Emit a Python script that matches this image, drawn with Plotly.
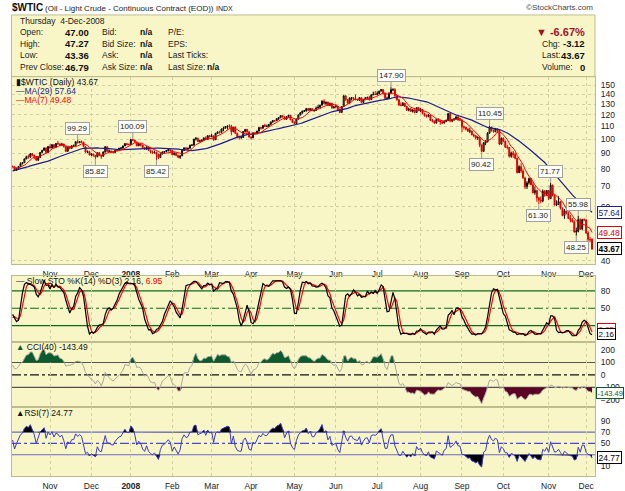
import numpy as np
import pandas as pd
import plotly.graph_objects as go

# ---------------- data (values read/estimated from the chart) ----------------
HOLIDAYS = ["2007-09-03", "2007-11-22", "2007-12-25", "2008-01-01", "2008-01-21",
            "2008-02-18", "2008-03-21", "2008-05-26", "2008-07-04", "2008-09-01", "2008-11-27"]
FIRST_DAY, LAST_DAY = "2007-08-09", "2008-12-04"
WARMUP = 40   # trading days before the first visible bar (Oct 5 2007), used by the indicators

OPEN = [
    72.10, 71.50, 71.40, 71.70, 73.40, 75.20, 72.30, 71.90, 71.10, 69.30, 69.30, 70.20, 71.10, 71.00, 72.00, 73.50, 74.10,
    74.10, 75.10, 76.30, 76.70, 76.70, 77.50, 78.20, 79.90, 80.10, 79.10, 80.60, 81.50, 81.90, 83.30, 81.60, 80.90, 79.50, 79.60, 82.90,
    81.70, 80.20, 80.10, 79.90,
    81.40, 81.20, 79.00, 80.30, 81.40, 83.10, 83.70, 86.10, 87.60, 87.40, 89.50, 88.60, 87.50, 85.30, 87.10, 90.50, 91.90, 93.50, 90.40,
    94.50, 93.50, 95.90, 94.00, 96.70, 96.40, 95.50, 96.30, 94.60, 91.20, 94.10, 93.40, 95.10, 95.20, 98.00, 97.30, 98.20, 97.70, 94.40, 90.60, 91.00,
    88.70, 89.30, 88.30, 87.50, 90.20, 88.30, 87.90, 90.80, 94.40, 91.30, 91.30, 90.60, 90.50, 91.70, 92.30, 93.30, 93.50, 95.00, 96.60, 96.00,
    96.00, 99.60, 99.20, 97.90, 95.10, 96.30, 95.70, 93.70, 92.70, 94.20, 91.90, 90.80, 90.10, 90.60, 89.20, 87.00, 89.40, 90.70, 91.00, 91.60, 92.30,
    91.70, 89.00, 90.00, 88.40, 87.10, 88.10, 91.80, 93.60, 92.80, 93.30, 95.50, 95.50, 100.00, 100.70, 98.20, 98.80, 99.20, 100.90, 99.60, 102.60,
    101.80, 102.40, 99.50, 104.50, 105.50, 105.20, 107.90, 108.80, 109.90, 110.30, 110.20, 105.70, 109.40, 104.50, 101.80, 101.20, 101.20, 105.90, 107.60, 105.60,
    101.60, 101.00, 104.80, 103.90, 106.20, 109.10, 108.50, 110.90, 110.10, 110.10, 111.80, 113.80, 114.90, 114.90, 116.70, 117.50, 119.40, 118.30, 116.10, 118.50, 119.70, 115.60,
    113.50, 112.50, 116.30, 120.00, 121.80, 123.50, 123.70, 126.00, 124.20, 125.80, 124.10, 124.10, 126.30, 127.10, 129.10, 133.20, 130.80, 132.20, 128.90, 131.00, 126.60,
    127.40, 127.80, 124.30, 122.30, 127.80, 138.50, 134.40, 131.30, 136.40, 136.70, 134.90, 134.60, 134.00, 136.70, 131.90, 134.60, 136.70, 137.00, 134.60, 139.60, 140.20,
    140.00, 141.00, 143.60, 145.30, 141.40, 136.00, 136.10, 141.70, 145.10, 145.20, 138.70, 134.60, 129.30, 128.90, 131.00, 128.00, 124.40, 125.50, 123.30, 124.70, 122.20, 126.80,
    124.10, 125.10, 121.40, 119.20, 118.60, 120.00, 115.20, 114.40, 113.00, 116.00, 115.00, 113.80, 112.90, 114.50, 115.00, 121.20, 114.60, 115.50, 116.30, 118.20, 115.60,
    115.50, 109.70, 109.40, 107.90, 106.20, 106.30, 103.30, 102.60, 100.90, 101.20, 95.70, 91.20, 97.20, 97.90, 104.60, 109.40, 106.60, 105.70, 108.00, 106.90, 96.40,
    100.60, 98.50, 94.00, 93.90, 87.80, 90.10, 89.00, 86.60, 77.70, 81.20, 78.60, 74.50, 69.90, 71.90, 74.30, 70.90, 66.80, 67.80, 64.20, 63.20, 62.70, 67.50, 66.00,
    67.80, 63.90, 70.50, 65.30, 60.80, 61.00, 62.40, 59.30, 56.20, 58.20, 57.00, 55.00, 54.40, 53.60, 49.60, 49.90, 54.50, 50.80, 54.40,
    54.40, 49.30, 46.90, 47.00,
]
HIGH = [
    72.60, 72.20, 72.30, 73.60, 75.60, 75.40, 72.90, 72.40, 71.40, 70.10, 70.60, 71.30, 71.60, 72.30, 73.70, 74.40, 74.50,
    75.30, 76.50, 77.00, 77.20, 77.70, 78.40, 80.20, 80.40, 80.20, 80.80, 81.70, 82.40, 84.10, 83.80, 81.90, 81.20, 80.30, 83.20, 83.40,
    82.00, 80.90, 80.60, 81.70,
    81.90, 81.30, 80.50, 81.60, 83.90, 84.10, 86.40, 88.20, 89.00, 90.00, 90.07, 88.80, 87.90, 87.60, 90.60, 92.20, 93.80, 93.80, 94.80,
    96.24, 96.10, 96.00, 97.10, 98.62, 96.90, 97.10, 96.50, 94.90, 94.40, 94.50, 95.40, 96.00, 98.40, 99.29, 98.60, 98.90, 97.90, 94.60, 91.80, 91.50,
    89.80, 89.60, 88.80, 90.50, 90.60, 88.50, 91.00, 94.80, 94.50, 92.40, 91.80, 91.30, 92.20, 92.70, 93.60, 94.00, 95.20, 97.00, 97.00, 96.80,
    100.00, 100.09, 99.50, 98.00, 97.20, 97.00, 95.90, 94.00, 94.60, 94.50, 92.30, 91.80, 91.60, 90.80, 89.40, 89.70, 91.10, 91.40, 92.00, 92.80, 92.60,
    91.90, 90.40, 90.20, 88.90, 88.50, 92.00, 93.90, 94.00, 93.80, 95.80, 96.20, 100.10, 101.30, 101.00, 99.30, 99.70, 101.30, 102.10, 102.90, 103.20,
    103.95, 102.80, 104.70, 105.97, 106.50, 108.20, 109.70, 110.20, 110.70, 111.80, 111.40, 109.70, 109.90, 104.90, 102.50, 102.40, 106.20, 107.80, 107.90, 106.00,
    102.10, 105.20, 105.60, 106.40, 109.30, 109.40, 111.00, 112.20, 111.50, 112.00, 114.00, 115.50, 115.50, 117.00, 117.80, 119.90, 119.60, 118.50, 118.80, 119.93, 119.90, 116.40,
    114.20, 116.60, 120.40, 122.70, 123.90, 124.60, 126.20, 126.40, 126.30, 126.10, 124.70, 127.80, 129.60, 129.40, 133.82, 135.09, 132.60, 132.50, 131.60, 131.50, 128.40,
    129.90, 128.30, 126.10, 128.00, 139.12, 139.20, 135.30, 136.80, 137.20, 137.40, 139.89, 135.70, 137.10, 136.90, 135.20, 137.20, 137.60, 138.70, 140.39, 142.99, 143.67,
    143.33, 144.00, 145.85, 145.40, 142.00, 137.80, 142.00, 147.90, 146.70, 146.80, 139.50, 135.40, 132.00, 132.20, 131.50, 128.50, 126.70, 126.40, 125.20, 125.00, 127.20, 127.40,
    126.20, 125.40, 122.00, 120.40, 121.00, 120.30, 116.50, 115.20, 116.30, 117.20, 115.70, 114.90, 115.20, 116.00, 121.75, 121.80, 116.40, 117.20, 119.40, 119.20, 117.70,
    116.00, 110.70, 109.80, 108.60, 109.00, 106.60, 104.20, 102.80, 102.20, 101.40, 96.00, 97.70, 99.30, 105.30, 110.45, 109.80, 107.60, 108.80, 108.50, 107.10, 101.20,
    101.20, 98.70, 95.80, 94.00, 91.00, 91.40, 90.40, 86.90, 82.10, 83.30, 79.70, 75.20, 72.80, 74.80, 74.50, 72.40, 69.90, 68.30, 64.70, 64.90, 68.40, 68.10, 68.00,
    68.10, 71.77, 71.00, 65.80, 63.00, 65.00, 62.70, 59.80, 59.00, 60.10, 57.90, 56.40, 55.10, 54.20, 51.30, 55.98, 55.00, 54.80, 55.00,
    54.50, 49.90, 47.80, 47.27,
]
LOW = [
    71.20, 70.75, 71.00, 71.40, 73.10, 71.90, 71.10, 70.80, 69.10, 68.90, 69.00, 69.90, 70.60, 70.80, 71.70, 72.90, 73.50,
    73.70, 74.90, 75.80, 75.90, 76.10, 77.10, 77.90, 79.00, 78.70, 78.90, 80.10, 81.00, 81.60, 81.30, 80.40, 78.90, 78.80, 79.40, 81.40,
    79.80, 79.50, 79.20, 79.60,
    80.80, 78.70, 78.80, 79.70, 81.00, 82.60, 83.50, 85.90, 86.20, 86.80, 87.80, 85.90, 85.00, 84.90, 86.80, 89.90, 91.50, 89.90, 90.20,
    93.10, 93.20, 93.60, 93.70, 95.90, 94.80, 95.00, 93.70, 90.80, 91.00, 92.60, 92.90, 94.20, 95.00, 96.80, 97.00, 97.30, 94.20, 90.40, 89.90, 88.40,
    87.90, 87.60, 85.82, 87.20, 87.90, 86.20, 87.50, 90.30, 90.80, 90.60, 89.90, 89.60, 90.00, 91.00, 92.00, 92.80, 92.90, 94.80, 95.40, 95.30,
    95.70, 98.50, 97.20, 94.70, 94.80, 94.60, 93.20, 92.20, 92.30, 91.50, 89.90, 89.60, 89.70, 85.42, 86.10, 86.80, 89.10, 89.80, 90.50, 91.10, 90.70,
    88.60, 88.40, 87.80, 86.60, 86.10, 88.00, 91.40, 92.30, 92.20, 93.00, 94.90, 95.20, 99.00, 97.80, 97.60, 97.90, 98.80, 99.30, 99.50, 101.20,
    101.60, 98.70, 99.30, 103.90, 104.20, 104.90, 106.10, 108.20, 107.50, 108.60, 102.90, 105.40, 103.90, 100.50, 99.60, 100.20, 100.90, 105.20, 104.80, 101.10,
    99.60, 100.70, 103.30, 103.70, 105.90, 107.50, 108.20, 109.60, 109.40, 109.80, 111.40, 113.20, 113.80, 114.60, 115.50, 117.10, 117.60, 115.50, 115.80, 118.00, 115.40, 112.90,
    111.80, 112.30, 116.00, 119.60, 121.10, 122.70, 123.00, 123.50, 123.80, 123.40, 122.80, 123.80, 125.90, 126.20, 128.90, 129.80, 129.40, 128.20, 128.60, 125.60, 125.90,
    126.90, 123.90, 121.60, 121.90, 127.40, 133.60, 130.80, 130.80, 133.80, 133.90, 134.10, 133.40, 133.70, 131.60, 131.50, 134.20, 135.40, 133.70, 134.30, 139.20, 139.80,
    139.60, 140.60, 143.20, 139.60, 135.20, 134.80, 135.70, 140.90, 143.50, 136.00, 133.50, 128.50, 128.20, 128.50, 127.40, 123.70, 123.30, 122.70, 122.20, 121.50, 121.90, 123.40,
    122.50, 120.60, 118.60, 117.60, 117.90, 114.60, 113.40, 112.20, 112.40, 113.80, 111.40, 111.90, 112.50, 113.60, 114.80, 113.50, 113.60, 114.90, 115.80, 114.80, 114.80,
    105.50, 107.40, 106.60, 105.50, 104.60, 102.90, 101.40, 99.90, 99.40, 94.10, 90.42, 90.90, 95.50, 97.60, 104.20, 105.80, 104.90, 105.40, 104.70, 95.50, 95.90,
    97.60, 93.70, 92.60, 87.00, 86.90, 86.80, 85.80, 77.10, 77.30, 77.50, 74.20, 68.60, 68.60, 70.90, 70.60, 66.40, 65.70, 62.30, 61.30, 61.60, 62.10, 64.70, 65.10,
    63.10, 63.60, 64.90, 60.60, 60.30, 60.80, 58.80, 55.90, 54.80, 56.70, 54.70, 53.40, 53.30, 49.40, 48.25, 49.50, 50.40, 50.30, 53.80,
    48.90, 46.20, 45.90, 43.36,
]
CLOSE = [
    71.59, 71.47, 71.62, 73.38, 75.38, 72.26, 71.98, 71.12, 69.27, 69.26, 70.23, 71.09, 71.02, 72.00, 73.51, 74.16, 74.04,
    75.08, 76.30, 76.70, 76.70, 77.49, 78.23, 79.91, 80.09, 79.10, 80.57, 81.51, 81.93, 83.32, 81.62, 80.95, 79.53, 79.59, 82.88, 81.66,
    80.24, 80.05, 79.94, 81.44,
    81.22, 79.02, 80.30, 81.37, 83.08, 83.69, 86.13, 87.61, 87.40, 89.47, 88.60, 87.51, 85.27, 87.10, 90.46, 91.86, 93.53, 90.38, 94.53,
    93.49, 95.93, 93.98, 96.70, 96.37, 95.46, 96.32, 94.62, 91.17, 94.09, 93.43, 95.10, 95.18, 98.03, 97.29, 98.18, 97.70, 94.42, 90.62, 91.01, 88.71,
    89.31, 88.32, 87.49, 90.23, 88.28, 87.86, 90.76, 94.39, 91.25, 91.27, 90.63, 90.49, 91.74, 92.34, 93.31, 93.50, 94.97, 96.62, 96.00, 95.98,
    99.62, 99.18, 97.91, 95.09, 96.33, 95.67, 93.67, 92.69, 94.20, 91.90, 90.84, 90.13, 90.57, 89.21, 86.99, 89.41, 90.71, 90.99, 91.64, 92.33, 91.75,
    88.96, 90.02, 88.41, 87.14, 88.11, 91.77, 93.59, 92.78, 93.27, 95.46, 95.50, 100.01, 100.74, 98.23, 98.81, 99.23, 100.88, 99.64, 102.59, 101.84,
    102.45, 99.52, 104.52, 105.47, 105.15, 107.90, 108.75, 109.92, 110.33, 110.21, 105.68, 109.42, 104.48, 101.84, 101.22, 101.22, 105.90, 107.58, 105.62, 101.58,
    100.98, 104.83, 103.92, 106.23, 109.09, 108.50, 110.87, 110.11, 110.14, 111.76, 113.79, 114.93, 114.86, 116.69, 117.48, 119.37, 118.30, 116.06, 118.52, 119.75, 115.63, 113.46,
    112.52, 116.32, 119.97, 121.84, 123.53, 123.69, 125.96, 124.23, 125.80, 124.12, 124.12, 126.29, 127.05, 129.07, 133.17, 130.81, 132.19, 128.85, 131.03, 126.62, 127.35,
    127.76, 124.31, 122.30, 127.79, 138.54, 134.35, 131.31, 136.38, 136.74, 134.86, 134.61, 134.01, 136.68, 131.93, 134.62, 136.74, 137.00, 134.55, 139.64, 140.21, 140.00,
    140.97, 143.57, 145.29, 141.37, 136.04, 136.05, 141.65, 145.08, 145.18, 138.74, 134.60, 129.29, 128.88, 131.04, 127.95, 124.44, 125.49, 123.26, 124.73, 122.19, 126.77, 124.08,
    125.10, 121.41, 119.17, 118.58, 120.02, 115.20, 114.45, 113.01, 116.00, 115.01, 113.77, 112.87, 114.53, 114.98, 121.18, 114.59, 115.46, 116.27, 118.15, 115.59, 115.46,
    109.71, 109.35, 107.89, 106.23, 106.34, 103.26, 102.58, 100.87, 101.18, 95.71, 91.15, 97.16, 97.88, 104.55, 109.37, 106.61, 105.73, 108.02, 106.89, 96.37, 100.64,
    98.53, 93.97, 93.88, 87.81, 90.06, 88.95, 86.59, 77.70, 81.19, 78.63, 74.54, 69.85, 71.85, 74.25, 70.89, 66.75, 67.84, 64.15, 63.22, 62.73, 67.50, 65.96, 67.81,
    63.91, 70.53, 65.30, 60.77, 61.04, 62.41, 59.33, 56.16, 58.24, 57.04, 54.95, 54.39, 53.62, 49.62, 49.93, 54.50, 50.77, 54.44, 54.43,
    49.28, 46.96, 46.79, 43.67,
]

MONTH_LABELS = ["Nov", "Dec", "<b>2008</b>", "Feb", "Mar", "Apr", "May", "Jun", "Jul",
                "Aug", "Sep", "Oct", "Nov", "Dec"]
PRICE_TICKS = [40, 50, 60, 70, 80, 90, 100, 110, 120, 130, 140, 150]
CALLOUTS = [("2007-11-21", "H", "99.29"), ("2007-12-05", "L", "85.82"),
            ("2008-01-03", "H", "100.09"), ("2008-01-22", "L", "85.42"),
            ("2008-07-11", "H", "147.90"), ("2008-09-16", "L", "90.42"),
            ("2008-09-22", "H", "110.45"), ("2008-10-27", "L", "61.30"),
            ("2008-11-04", "H", "71.77"), ("2008-11-21", "L", "48.25"),
            ("2008-11-24", "H", "55.98")]
LAST_VALUES = {"close": "43.67", "ma29": "57.64", "ma7": "49.48", "k": "2.16", "d": "6.95",
               "cci": "-143.49", "rsi": "24.77"}
HEADER_ROWS = [("Open:", "47.00", "Bid:", "n/a", "P/E:", ""),
               ("High:", "47.27", "Bid Size:", "n/a", "EPS:", ""),
               ("Low:", "43.36", "Ask:", "n/a", "Last Ticks:", ""),
               ("Prev Close:", "46.79", "Ask Size:", "n/a", "Last Size:", "n/a")]
HEADER_RIGHT = [("Chg:", "-3.12"), ("Last:", "43.67"), ("Volume:", "0")]

# ---------------- derived series ----------------
dates = pd.bdate_range(FIRST_DAY, LAST_DAY)
dates = dates[~dates.isin(pd.to_datetime(HOLIDAYS))]
o, h, l, c = (np.array(a, dtype=float) for a in (OPEN, HIGH, LOW, CLOSE))
n = min(len(dates), len(c))
dates, o, h, l, c = dates[:n], o[:n], h[:n], l[:n], c[:n]
cs, hs, ls = pd.Series(c), pd.Series(h), pd.Series(l)

ma29 = cs.rolling(29).mean().to_numpy()
ma7 = cs.rolling(7).mean().to_numpy()
fastk = 100 * (cs - ls.rolling(14).min()) / (hs.rolling(14).max() - ls.rolling(14).min())
slowk = fastk.rolling(3).mean()
slowd = slowk.rolling(3).mean()
tp = (hs + ls + cs) / 3
md = tp.rolling(40).apply(lambda w: np.mean(np.abs(w - w.mean())), raw=True)
cci = ((tp - tp.rolling(40).mean()) / (0.015 * md)).to_numpy()
delta = cs.diff()
gain = delta.clip(lower=0).ewm(alpha=1 / 7, adjust=False).mean()
loss = (-delta.clip(upper=0)).ewm(alpha=1 / 7, adjust=False).mean()
rsi = (100 - 100 / (1 + gain / loss)).to_numpy()
slowk, slowd = slowk.to_numpy(), slowd.to_numpy()

V = slice(WARMUP, n)
xv = np.arange(n - WARMUP)
vd = list(dates[V])
month_idx = [k for k in range(1, len(vd)) if vd[k].month != vd[k - 1].month]
prev_close = np.r_[np.nan, c[:-1]]
up = (c >= prev_close)[V]

# ---------------- styling helpers ----------------
W, H = 625, 491
def px(x): return x / W
def py(y): return 1 - y / H

BG = "#F8F6C6"
BORDER = "#BDBD8C"
GRID = "#D2D0A0"
FONT = "Liberation Sans, Arial, sans-serif"
XR = [-0.3, 295.5]

fig = go.Figure()

def candles(mask, color):
    return go.Candlestick(
        x=xv[mask], open=o[V][mask], high=h[V][mask], low=l[V][mask], close=c[V][mask],
        increasing=dict(line=dict(color=color, width=1), fillcolor=BG),
        decreasing=dict(line=dict(color=color, width=1), fillcolor=color),
        whiskerwidth=0, xaxis="x", yaxis="y", showlegend=False, hoverinfo="skip")

fig.add_trace(go.Scatter(x=xv, y=ma29[V], mode="lines", line=dict(color="#1C1C8C", width=1.2),
                         xaxis="x", yaxis="y", showlegend=False))
fig.add_trace(candles(up, "#000000"))
fig.add_trace(candles(~up, "#E00000"))
fig.add_trace(go.Scatter(x=xv, y=ma7[V], mode="lines", line=dict(color="#FF0000", width=1),
                         xaxis="x", yaxis="y", showlegend=False))

# STO
fig.add_trace(go.Scatter(x=xv, y=slowd[V], mode="lines", line=dict(color="#FF0000", width=1.2),
                         xaxis="x2", yaxis="y2", showlegend=False))
fig.add_trace(go.Scatter(x=xv, y=slowk[V], mode="lines", line=dict(color="#000000", width=1.2),
                         xaxis="x2", yaxis="y2", showlegend=False))

# CCI / RSI with threshold fills
def band(xa, ya, series, level, color, above):
    base = np.full(len(series), level, dtype=float)
    clipped = np.maximum(series, level) if above else np.minimum(series, level)
    fig.add_trace(go.Scatter(x=xv, y=base, mode="lines", line=dict(width=0),
                             xaxis=xa, yaxis=ya, showlegend=False, hoverinfo="skip"))
    fig.add_trace(go.Scatter(x=xv, y=clipped, mode="lines", line=dict(width=0), fill="tonexty",
                             fillcolor=color, xaxis=xa, yaxis=ya, showlegend=False, hoverinfo="skip"))

band("x3", "y3", cci[V], 100, "#0B5B2E", True)
band("x3", "y3", cci[V], -100, "#5C0024", False)
fig.add_trace(go.Scatter(x=xv, y=cci[V], mode="lines", line=dict(color="#A8A8A0", width=1),
                         xaxis="x3", yaxis="y3", showlegend=False))
band("x4", "y4", rsi[V], 70, "#000000", True)
band("x4", "y4", rsi[V], 30, "#000000", False)
fig.add_trace(go.Scatter(x=xv, y=rsi[V], mode="lines", line=dict(color="#3A3AC8", width=1),
                         xaxis="x4", yaxis="y4", showlegend=False))

# ---------------- axes ----------------
XDOM = [px(12), px(595)]
DOMS = {"": [py(265), py(77)], "2": [py(343), py(277)],
        "3": [py(409), py(343)], "4": [py(478), py(409)]}
axis_common = dict(showline=True, mirror=True, linecolor=BORDER, linewidth=1, zeroline=False)
tickfont = dict(family=FONT, size=8.5, color="#222")

layout = dict(width=W, height=H, margin=dict(l=0, r=0, t=0, b=0),
              paper_bgcolor="white", plot_bgcolor=BG, hovermode=False, showlegend=False)
for k in ["", "2", "3", "4"]:
    layout["xaxis" + k] = dict(domain=XDOM, range=XR, anchor="y" + k, tickmode="array",
                               tickvals=month_idx, ticktext=MONTH_LABELS[:len(month_idx)],
                               showticklabels=(k in ["", "4"]), ticks="", tickfont=tickfont,
                               showgrid=True, gridcolor=GRID, griddash="dot", gridwidth=1,
                               rangeslider=dict(visible=False), ticklabelstandoff=2,
                               **axis_common)
layout["yaxis"] = dict(domain=DOMS[""], type="log", range=[np.log10(39.0), np.log10(160.1)],
                       anchor="x", side="right", tickmode="array", tickvals=PRICE_TICKS,
                       ticktext=[str(t) for t in PRICE_TICKS], ticks="", tickfont=tickfont,
                       showgrid=True, gridcolor=GRID, griddash="dot", ticklabelstandoff=3,
                       **axis_common)
layout["yaxis2"] = dict(domain=DOMS["2"], range=[-7.4, 105.7], anchor="x2", side="right",
                        tickmode="array", tickvals=[20, 50, 80], ticks="", tickfont=tickfont,
                        showgrid=False, ticklabelstandoff=3, **axis_common)
layout["yaxis3"] = dict(domain=DOMS["3"], range=[-260, 268], anchor="x3", side="right",
                        tickmode="array", tickvals=[-200, -100, 0, 100, 200], ticks="",
                        tickfont=tickfont, showgrid=False, ticklabelstandoff=3, **axis_common)
layout["yaxis4"] = dict(domain=DOMS["4"], range=[-7.7, 114], anchor="x4", side="right",
                        tickmode="array", tickvals=[10, 30, 50, 70, 90], ticks="",
                        tickfont=tickfont, showgrid=False, ticklabelstandoff=3, **axis_common)
fig.update_layout(**layout)

# ---------------- reference lines ----------------
shapes = []
def hline(ax, yv, color, dash="solid", width=1.2):
    shapes.append(dict(type="line", xref=f"x{ax} domain", x0=0, x1=1, yref=f"y{ax}", y0=yv, y1=yv,
                       line=dict(color=color, width=width, dash=dash), layer="below"))
hline("2", 80, "#0E6A1E"); hline("2", 20, "#0E6A1E"); hline("2", 50, "#0E6A1E", "dashdot")
hline("3", 100, "#555555"); hline("3", -100, "#555555"); hline("3", 0, "#111111", "dashdot")
hline("4", 70, "#6A6AC8"); hline("4", 30, "#6A6AC8"); hline("4", 50, "#4A4AC8", "dashdot")
shapes.append(dict(type="rect", xref="paper", yref="paper", x0=px(11.5), x1=px(595), y0=py(77),
                   y1=py(15), fillcolor=BG, line=dict(color=BORDER, width=1), layer="below"))
fig.update_layout(shapes=shapes)

# ---------------- text ----------------
ann = []
def text(x, y, s, size=8.5, color="#222", anchor="left", bold=False):
    ann.append(dict(x=px(x), y=py(y), xref="paper", yref="paper", text=(f"<b>{s}</b>" if bold else s),
                    showarrow=False, xanchor=anchor, yanchor="middle",
                    font=dict(family=FONT, size=size, color=color)))

text(10, 8, "$WTIC", size=10, color="#111", bold=True)
text(43, 8.5, "(Oil - Light Crude - Continuous Contract (EOD))", size=8, color="#222")
text(214, 8.5, "INDX", size=7, color="#222")
text(595, 8, "©StockCharts.com", size=8, color="#444", anchor="right")

text(18, 21, "Thursday  4-Dec-2008", size=8.5)
for r, (a, b, cc_, d_, e, f) in enumerate(HEADER_ROWS):
    yy = [32.5, 44, 55.5, 67.5][r]
    text(18, yy, a, size=8.5)
    text(63, yy, b, size=9.5, bold=True, color="#111")
    text(100, yy, cc_, size=8.5)
    text(138, yy, d_, size=8.5, bold=True, color="#111")
    text(166, yy, e, size=8.5)
    if f:
        text(205, yy, f, size=8.5, bold=True, color="#111")
text(587, 32.5, "▼ -6.67%", size=11, color="#A0102A", anchor="right", bold=True)
for r, (a, b) in enumerate(HEADER_RIGHT):
    yy = [44, 55.5, 67.5][r]
    text(540, yy, a, size=8.5)
    text(587, yy, b, size=9.5, bold=True, color="#111", anchor="right")

# panel legends
text(14, 82, f"▮$WTIC (Daily) {LAST_VALUES['close']}", size=8.5, color="#111")
text(14, 91, f"<span style='color:#1C1C8C'>—MA(29) {LAST_VALUES['ma29']}</span>", size=8.5)
text(14, 100, f"<span style='color:#FF0000'>—MA(7) {LAST_VALUES['ma7']}</span>", size=8.5)
text(14, 282, f"— Slow STO %K(14) %D(3) {LAST_VALUES['k']}, "
              f"<span style='color:#FF0000'>{LAST_VALUES['d']}</span>", size=8.5, color="#111")
text(14, 348.5, f"<span style='color:#0B5B2E'>▲</span> CCI(40) {LAST_VALUES['cci']}", size=8.5, color="#111")
text(14, 415, f"▲RSI(7) {LAST_VALUES['rsi']}", size=8.5, color="#111")

# peak / trough callouts
for dstr, kind, label in CALLOUTS:
    k = vd.index(pd.Timestamp(dstr))
    val = h[V][k] if kind == "H" else l[V][k]
    ann.append(dict(x=k, y=np.log10(val), xref="x", yref="y", text=label, showarrow=True,
                    arrowhead=0, arrowwidth=1, arrowcolor="#999", ax=0, ay=(-12 if kind == "H" else 12),
                    font=dict(family=FONT, size=8, color="#222"), bgcolor="#FFFFF8",
                    bordercolor="#A0A0A0", borderwidth=1, borderpad=1))

# right-hand value boxes
def vbox(yref, yv, label, color, bold=False, yshift=0, size=8.5, x=597):
    ann.append(dict(x=px(x), xref="paper", y=yv, yref=yref, text=(f"<b>{label}</b>" if bold else label),
                    showarrow=False, xanchor="left", yanchor="middle", yshift=yshift,
                    font=dict(family=FONT, size=size, color=color), bgcolor="white",
                    bordercolor=color, borderwidth=1, borderpad=0.5))

vbox("y", np.log10(float(LAST_VALUES["ma29"])), LAST_VALUES["ma29"], "#1C1C8C")
vbox("y", np.log10(float(LAST_VALUES["ma7"])), LAST_VALUES["ma7"], "#E00000")
vbox("y", np.log10(float(LAST_VALUES["close"])), LAST_VALUES["close"], "#000000", bold=True)
vbox("y2", float(LAST_VALUES["d"]), LAST_VALUES["d"], "#E00000", yshift=4, size=8)
vbox("y2", float(LAST_VALUES["k"]), LAST_VALUES["k"], "#000000", yshift=2, size=8)
vbox("y3", float(LAST_VALUES["cci"]), LAST_VALUES["cci"], "#0B5B2E", size=7.5, x=596)
vbox("y4", float(LAST_VALUES["rsi"]), LAST_VALUES["rsi"], "#000000")

fig.update_layout(annotations=ann)
fig.write_html("out.html")
